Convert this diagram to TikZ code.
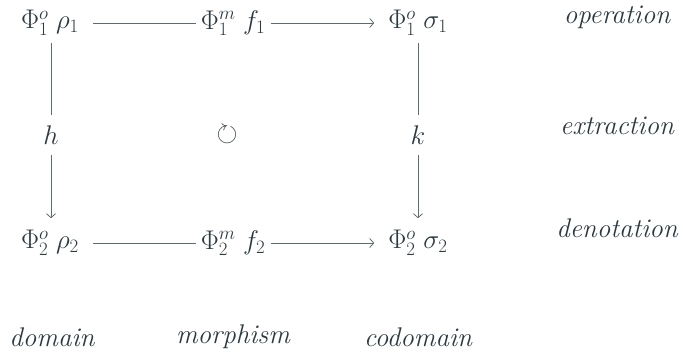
\RequirePackage{fix-cm}
\documentclass[tikz,border=0pt]{standalone}
\usepackage{fontspec}
\usepackage{amssymb}
\usetikzlibrary{arrows.meta}
\definecolor{txt}{HTML}{2B3A40}
\definecolor{ln}{HTML}{5E6C71}
\begin{document}
\begin{tikzpicture}[x=1pt,y=-1pt,
  every node/.style={text=txt,font=\fontsize{27}{31}\selectfont,inner sep=2pt},
  lbl/.style={font=\fontsize{27}{31}\selectfont\itshape},
  conn/.style={draw=ln,line width=0.8pt},
  hl/.style={conn,shorten <=12pt,shorten >=3pt},
  ha/.style={conn,shorten <=4pt,shorten >=12pt,-{Straight Barb[length=4pt,width=9pt]}},
  vl/.style={conn,shorten <=5pt,shorten >=8pt},
  va/.style={conn,shorten <=8pt,shorten >=10pt,-{Straight Barb[length=4pt,width=9pt]}}]
\useasboundingbox (0,0) rectangle (683,354);
\node (a1) at (50,23) {$\Phi^o_1\;\rho_1$};
\node (m1) at (233,23) {$\Phi^m_1\;f_1$};
\node (b1) at (418,23) {$\Phi^o_1\;\sigma_1$};
\node (a2) at (50,243) {$\Phi^o_2\;\rho_2$};
\node (m2) at (233,243) {$\Phi^m_2\;f_2$};
\node (b2) at (418,243) {$\Phi^o_2\;\sigma_2$};
\node (h) at (51,135) {$h$};
\node (k) at (418,135) {$k$};
\node (c) at (227,135) {$\circlearrowright$};
\draw[hl] (a1.east) -- (a1.east -| m1.west);
\draw[ha] (m1.east |- a1.east) -- (a1.east -| b1.west);
\draw[hl] (a2.east) -- (a2.east -| m2.west);
\draw[ha] (m2.east |- a2.east) -- (a2.east -| b2.west);
\draw[vl] (h.north |- a1.south) -- (h.north);
\draw[va] (h.south) -- (h.south |- a2.north);
\draw[vl] (k.north |- b1.south) -- (k.north);
\draw[va] (k.south) -- (k.south |- b2.north);
\node[lbl] (op) at (617,17) {operation};
\node[lbl] (ex) at (617,126) {extraction};
\node[lbl] (de) at (617,228) {denotation};
\node[lbl] (do) at (52,337) {domain};
\node[lbl] (mo) at (233,337) {morphism};
\node[lbl] (co) at (418,337) {codomain};
\end{tikzpicture}
\end{document}
